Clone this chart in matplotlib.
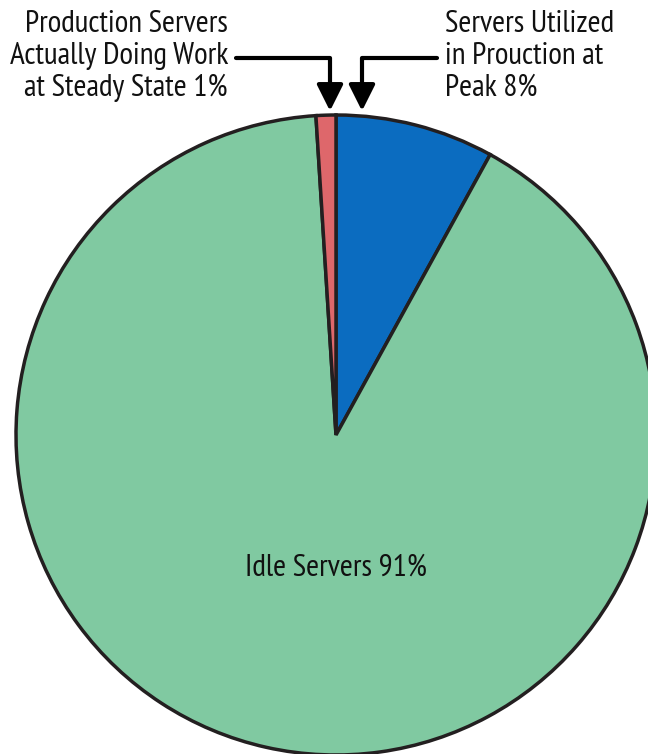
import matplotlib.pyplot as plt

plt.rcParams['font.family'] = ['PT Sans Narrow', 'Roboto Condensed', 'DejaVu Sans']

# shares of the server fleet
labels = ['Servers Utilized\nin Prouction at\nPeak 8%',
          'Idle Servers 91%',
          'Production Servers\nActually Doing Work\nat Steady State 1%']
values = [8, 91, 1]
colors = ['#0b6cc0', '#80c9a1', '#de676b']

W, H = 648, 754
fig = plt.figure(figsize=(W / 100, H / 100), dpi=100)
ax = fig.add_axes([0, 0, 1, 1])

cx, cy, r = 336, H - 435, 320
ax.pie(values, colors=colors, startangle=90, counterclock=False,
       center=(cx, cy), radius=r, frame=True,
       wedgeprops=dict(edgecolor='#231f20', linewidth=2.5))
ax.set_xlim(0, W)
ax.set_ylim(0, H)
ax.set_aspect('equal')
ax.axis('off')

fs = 22.5
ax.text(cx, H - 568, labels[1], ha='center', va='center', fontsize=fs, color='#111111')
ax.text(228, H - 56, labels[2], ha='right', va='center', fontsize=fs,
        color='#111111', linespacing=1.18)
ax.text(445, H - 56, labels[0], ha='left', va='center', fontsize=fs,
        color='#111111', linespacing=1.18)

arrow = dict(arrowstyle='-|>,head_width=0.8,head_length=1.6', color='black', lw=3,
             connectionstyle='angle,angleA=0,angleB=90,rad=0', shrinkA=0, shrinkB=0)
ax.annotate('', xy=(330, H - 111), xytext=(236, H - 58), arrowprops=arrow)
ax.annotate('', xy=(362, H - 111), xytext=(437, H - 58), arrowprops=arrow)

fig.savefig('out.png', dpi=100)
